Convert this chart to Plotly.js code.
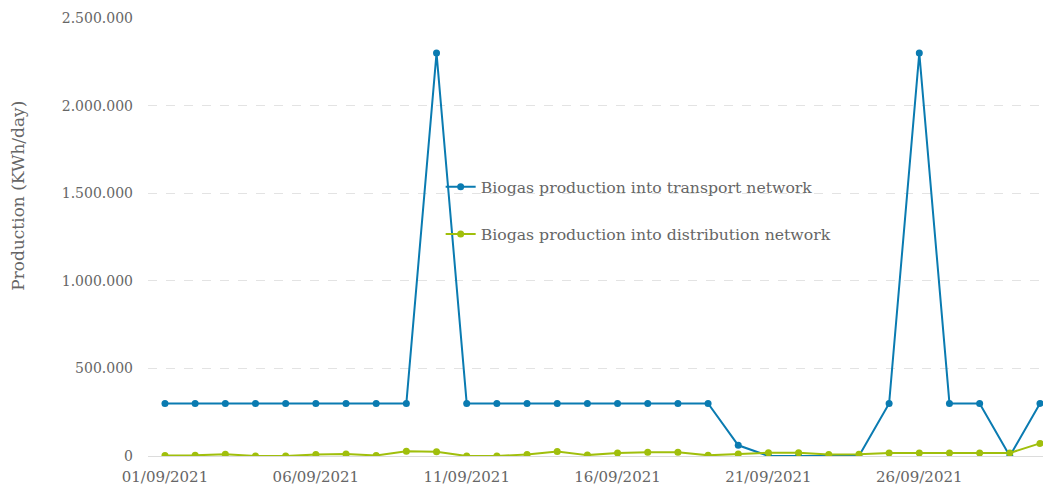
<!DOCTYPE html>
<html><head><meta charset="utf-8">
<script src="https://cdn.plot.ly/plotly-3.0.1.min.js"></script>
<style>html,body{margin:0;padding:0;background:#fff}#chart{width:1043px;height:487px}</style>
</head><body><div id="chart"></div>
<script>
const dates = ["2021-09-01","2021-09-02","2021-09-03","2021-09-04","2021-09-05","2021-09-06","2021-09-07","2021-09-08","2021-09-09","2021-09-10",
"2021-09-11","2021-09-12","2021-09-13","2021-09-14","2021-09-15","2021-09-16","2021-09-17","2021-09-18","2021-09-19","2021-09-20",
"2021-09-21","2021-09-22","2021-09-23","2021-09-24","2021-09-25","2021-09-26","2021-09-27","2021-09-28","2021-09-29","2021-09-30"];
const transport = [300000,300000,300000,300000,300000,300000,300000,300000,300000,2300000,
300000,300000,300000,300000,300000,300000,300000,300000,300000,61000,
0,0,0,0,300000,2300000,300000,300000,0,300000];
const distribution = [3000,4000,10000,0,0,8000,11000,3000,27000,24000,
0,0,9000,25000,5000,17000,21000,21000,4000,12000,
18000,18000,8000,10000,17000,17000,17000,17000,17000,72000];
const seriesNames = ["Biogas production into transport network","Biogas production into distribution network"];
const yTitle = "Production (KWh/day)";

const font = "DejaVu Serif, serif";
const traces = [
  {x: dates, y: transport, name: seriesNames[0], type: "scatter", mode: "lines+markers",
   line: {color: "#0a7bb1", width: 2}, marker: {color: "#0a7bb1", size: 7}, legendgroup: "a"},
  {x: dates, y: distribution, name: seriesNames[1], type: "scatter", mode: "lines+markers",
   line: {color: "#a0bf0c", width: 2}, marker: {color: "#a0bf0c", size: 7}, legendgroup: "b"}
];
const layout = {
  width: 1043, height: 487,
  margin: {l: 148, r: 0, t: 18, b: 31},
  paper_bgcolor: "#fff", plot_bgcolor: "#fff",
  separators: ",.",
  font: {family: font, color: "#666", size: 14},
  showlegend: true,
  legend: {x: 0.327, y: 0.653, xanchor: "left", yanchor: "top", bgcolor: "rgba(0,0,0,0)",
    font: {family: font, size: 15.7, color: "#666"}, tracegroupgap: 24, traceorder: "grouped", itemwidth: 30},
  xaxis: {type: "date", range: ["2021-08-31 10:30", "2021-09-30 02:24"],
    tick0: "2021-09-01", dtick: 5*86400000, tickformat: "%d/%m/%Y",
    showgrid: false, zeroline: false, showline: false, ticks: "", ticklabelstandoff: 10,
    tickfont: {family: font, size: 15, color: "#666"}},
  yaxis: {range: [0, 2500000], dtick: 500000, tickformat: ",d",
    showgrid: true, gridcolor: "#e3e3e3", griddash: "dash", gridwidth: 1,
    zeroline: true, zerolinecolor: "#dcdcdc", zerolinewidth: 1,
    ticks: "", ticklabelstandoff: 14,
    tickfont: {family: font, size: 14, color: "#666"}},
  annotations: [{text: yTitle, textangle: -90, xref: "paper", yref: "paper",
    x: -0.1453, y: 0.594, xanchor: "center", yanchor: "middle", showarrow: false,
    font: {family: font, size: 17, color: "#666"}}]
};
Plotly.newPlot("chart", traces, layout, {displayModeBar: false, staticPlot: true});
</script></body></html>
